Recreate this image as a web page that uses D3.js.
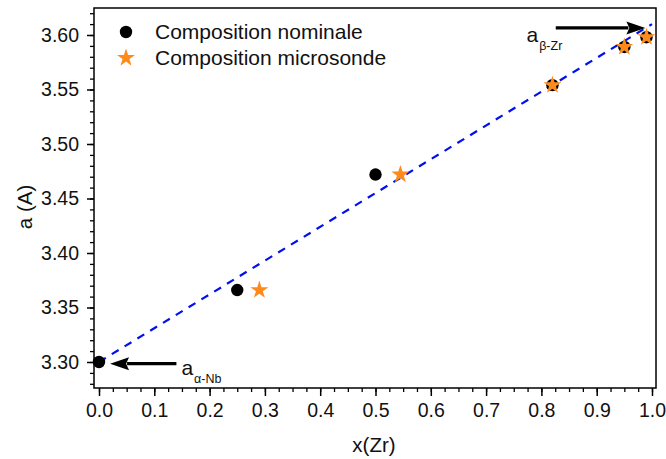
<!DOCTYPE html>
<html>
<head>
<meta charset="utf-8">
<script src="https://cdn.jsdelivr.net/npm/d3@7"></script>
<style>
  html, body { margin: 0; padding: 0; background: #fff; }
  svg { display: block; font-family: "Liberation Sans", Arial, sans-serif; }
</style>
</head>
<body>
<svg id="chart" width="666" height="459"></svg>
<script>
// ---- data ----
const nominalX = [0.0, 0.25, 0.50, 0.82, 0.95, 0.99];
const nominalA = [3.300, 3.366, 3.472, 3.554, 3.589, 3.598];
const microX = [0.29, 0.545, 0.82, 0.95, 0.99];
const microA = [3.366, 3.472, 3.554, 3.589, 3.598];
const vegardX = [0.0, 1.0];
const vegardA = [3.300, 3.610];
const xTicks = [0.0, 0.1, 0.2, 0.3, 0.4, 0.5, 0.6, 0.7, 0.8, 0.9, 1.0];
const yTicks = [3.30, 3.35, 3.40, 3.45, 3.50, 3.55, 3.60];
const xMinor = d3.range(0, 41).map(i => i * 0.025);
const yMinor = d3.range(-2, 33).map(i => 3.30 + i * 0.01);
const legendLabels = ["Composition nominale", "Composition microsonde"];
const xTitle = "x(Zr)";
const yTitle = "a (A)";

// ---- layout ----
const svg = d3.select("#chart");
const frame = { left: 94, right: 656, top: 8, bottom: 388 };
const x = d3.scaleLinear().domain([0, 1]).range([99, 652]);
const y = d3.scaleLinear().domain([3.30, 3.60]).range([362, 35]);
const orange = "#ff8a1c";
const fontFam = "Liberation Sans, Arial, sans-serif";

// minor ticks
svg.append("g")
  .attr("transform", `translate(${frame.left},0)`)
  .call(d3.axisLeft(y).tickValues(yMinor.filter(v => v > 3.274 && v < 3.626)).tickSize(4).tickFormat(""))
  .call(g => g.select(".domain").remove())
  .call(g => g.selectAll("line").attr("stroke-width", 1.3));
svg.append("g")
  .attr("transform", `translate(0,${frame.bottom})`)
  .call(d3.axisBottom(x).tickValues(xMinor).tickSize(4).tickFormat(""))
  .call(g => g.select(".domain").remove())
  .call(g => g.selectAll("line").attr("stroke-width", 1.3));

// major ticks
svg.append("g")
  .attr("transform", `translate(${frame.left},0)`)
  .call(d3.axisLeft(y).tickValues(yTicks).tickSize(7).tickPadding(8).tickFormat(d3.format(".2f")))
  .call(g => g.select(".domain").remove())
  .call(g => g.selectAll("line").attr("stroke-width", 1.5))
  .call(g => g.selectAll("text").attr("font-size", 19.5).attr("fill", "#111").attr("font-family", fontFam));
svg.append("g")
  .attr("transform", `translate(0,${frame.bottom})`)
  .call(d3.axisBottom(x).tickValues(xTicks).tickSize(8).tickPadding(7).tickFormat(d3.format(".1f")))
  .call(g => g.select(".domain").remove())
  .call(g => g.selectAll("line").attr("stroke-width", 1.5))
  .call(g => g.selectAll("text").attr("font-size", 19.5).attr("fill", "#111").attr("font-family", fontFam));

// frame
svg.append("rect")
  .attr("x", frame.left).attr("y", frame.top)
  .attr("width", frame.right - frame.left).attr("height", frame.bottom - frame.top)
  .attr("fill", "none").attr("stroke", "#000").attr("stroke-width", 1.5);

// axis titles
svg.append("text").attr("x", (frame.left + frame.right) / 2 - 1).attr("y", 452)
  .attr("text-anchor", "middle").attr("font-size", 20.5).attr("fill", "#111").text(xTitle);
svg.append("text").attr("transform", "translate(32,207) rotate(-90)")
  .attr("text-anchor", "middle").attr("font-size", 20.5).attr("fill", "#111").text(yTitle);

// dashed Vegard line
svg.append("path")
  .datum(vegardX.map((v, i) => [v, vegardA[i]]))
  .attr("d", d3.line().x(d => x(d[0])).y(d => y(d[1])))
  .attr("fill", "none").attr("stroke", "#0010ee").attr("stroke-width", 2.2)
  .attr("stroke-dasharray", "8,7");

// nominal points
svg.append("g").selectAll("circle")
  .data(nominalX.map((v, i) => [v, nominalA[i]]))
  .join("circle")
  .attr("cx", d => x(d[0])).attr("cy", d => y(d[1])).attr("r", 6.2).attr("fill", "#000");

// microsonde stars
const star = d3.symbol().type(d3.symbolStar).size(100);
svg.append("g").selectAll("path")
  .data(microX.map((v, i) => [v, microA[i]]))
  .join("path")
  .attr("d", star)
  .attr("transform", d => `translate(${x(d[0])},${y(d[1])})`)
  .attr("fill", orange);

// legend
svg.append("circle").attr("cx", 126).attr("cy", 32).attr("r", 6.2).attr("fill", "#000");
svg.append("path").attr("d", star).attr("transform", "translate(126,58)").attr("fill", orange);
svg.append("text").attr("x", 155).attr("y", 39).attr("font-size", 21).attr("fill", "#111").text(legendLabels[0]);
svg.append("text").attr("x", 155).attr("y", 65).attr("font-size", 21).attr("fill", "#111").text(legendLabels[1]);

// arrows
function arrow(x1, y1, x2, y2) {
  const dir = Math.sign(x2 - x1);
  const headLen = 19, headHalf = 6.5;
  svg.append("line").attr("x1", x1).attr("y1", y1).attr("x2", x2 - dir * headLen + dir * 2).attr("y2", y2)
    .attr("stroke", "#000").attr("stroke-width", 3.2);
  svg.append("path")
    .attr("d", `M${x2},${y2} L${x2 - dir * headLen},${y2 - headHalf} L${x2 - dir * headLen + dir * 3},${y2} L${x2 - dir * headLen},${y2 + headHalf} Z`)
    .attr("fill", "#000");
}
arrow(x(0.14), y(3.2985), x(0.02), y(3.2985));
arrow(x(0.826), y(3.6065), x(0.988), y(3.6065));

// annotation labels
function subLabel(px, py, sub) {
  const t = svg.append("text").attr("x", px).attr("y", py).attr("font-size", 21).attr("fill", "#111");
  t.append("tspan").text("a");
  t.append("tspan").attr("font-size", 12.5).attr("dx", 1).attr("dy", 8).text(sub);
}
subLabel(x(0.149), y(3.2885), "α-Nb");
subLabel(x(0.773), y(3.594), "β-Zr");
</script>
</body>
</html>
